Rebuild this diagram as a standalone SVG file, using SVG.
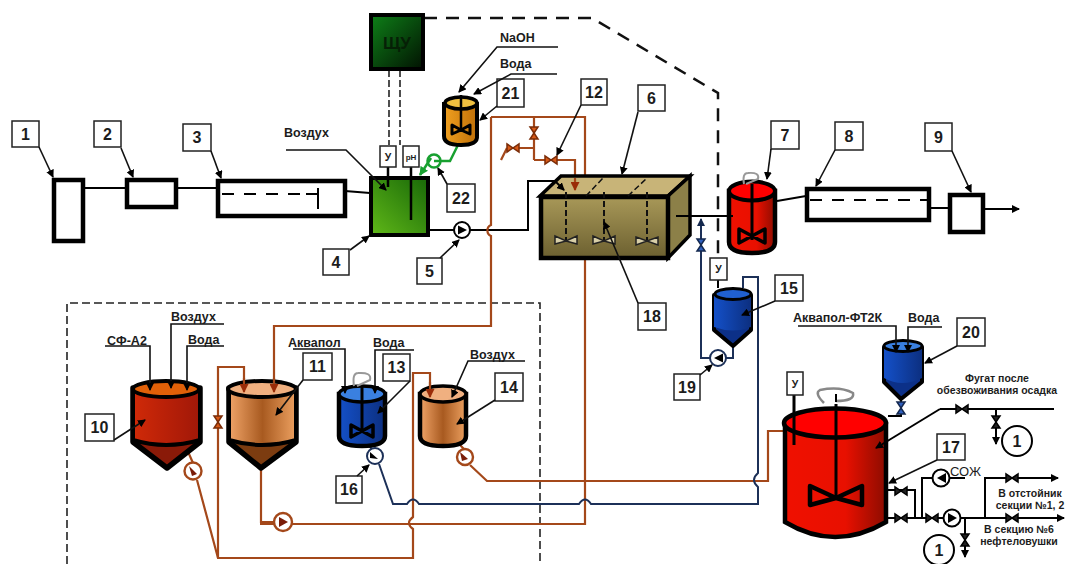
<svg xmlns="http://www.w3.org/2000/svg" width="1065" height="564" viewBox="0 0 1065 564">
<style>
text{font-family:"Liberation Sans",Arial,sans-serif;font-weight:bold;fill:#1c1c1c}
.lb{font-size:16px;text-anchor:middle}
.t{font-size:12.5px}
.s{font-size:10.5px;text-anchor:middle}
.box{fill:#fff;stroke:#222;stroke-width:1.5}
.l{fill:none;stroke:#111;stroke-width:1.6}
.k{fill:none;stroke:#000;stroke-width:2}
.eq{fill:#fff;stroke:#000;stroke-width:4.5}
.o{fill:none;stroke:#a4481a;stroke-width:2.2}
.b{fill:none;stroke:#1c3058;stroke-width:2}
.a{marker-end:url(#ar)}
.ao{marker-end:url(#aro)}
.dash{fill:none;stroke:#111;stroke-width:2.5;stroke-dasharray:13 9}
.dg{fill:none;stroke:#222;stroke-width:1.6;stroke-dasharray:7 3}
.vo{fill:#d85a18;stroke:#7a2c08;stroke-width:1.5}
.vb{fill:#3060c0;stroke:#14284e;stroke-width:1.5}
.vk{fill:#222;stroke:#000;stroke-width:1.5}
.pc{fill:#fff;stroke:#000;stroke-width:2}
.imp{fill:none;stroke:#000;stroke-width:3.5;stroke-linejoin:round}
</style>
<defs>
<marker id="ar" markerWidth="8" markerHeight="8" refX="7" refY="4" orient="auto" markerUnits="userSpaceOnUse"><path d="M0 0L8 4L0 8z" fill="#000"/></marker>
<marker id="aro" markerWidth="9" markerHeight="9" refX="8" refY="4.500" orient="auto" markerUnits="userSpaceOnUse"><path d="M0 0L9 4.500L0 9z" fill="#9a2c08"/></marker>
<marker id="abl" markerWidth="8" markerHeight="8" refX="7" refY="4" orient="auto" markerUnits="userSpaceOnUse"><path d="M0 0L8 4L0 8z" fill="#14284e"/></marker>
<marker id="ag" markerWidth="9" markerHeight="9" refX="8" refY="4.500" orient="auto" markerUnits="userSpaceOnUse"><path d="M0 0L9 4.500L0 9z" fill="#18a030"/></marker>
<symbol id="vh" overflow="visible"><path d="M-6-4V4L6-4V4Z"/></symbol>
<linearGradient id="gRed" x1="0" x2="1" y1="0" y2="0"><stop offset="0" stop-color="#f01000"/><stop offset=".6" stop-color="#e81000"/><stop offset="1" stop-color="#8c0c00"/></linearGradient>
<linearGradient id="gR10" x1="0" x2="1" y1="0" y2="0"><stop offset="0" stop-color="#d02a08"/><stop offset=".5" stop-color="#b82008"/><stop offset="1" stop-color="#a01808"/></linearGradient>
<linearGradient id="gCu" x1="0" x2="1" y1="0" y2="0"><stop offset="0" stop-color="#f0a468"/><stop offset=".5" stop-color="#a85a20"/><stop offset="1" stop-color="#eca060"/></linearGradient>
<linearGradient id="gBlue" x1="0" x2="1" y1="0" y2="0"><stop offset="0" stop-color="#1450c8"/><stop offset="1" stop-color="#0c2f80"/></linearGradient>
<linearGradient id="gOr" x1="0" x2="1" y1="0" y2="0"><stop offset="0" stop-color="#f0a020"/><stop offset="1" stop-color="#c07008"/></linearGradient>
<linearGradient id="gGr" x1="0" x2="1" y1="1" y2="0"><stop offset="0" stop-color="#60b818"/><stop offset="1" stop-color="#186808"/></linearGradient>
<linearGradient id="gDk" x1="0" x2="1" y1="0" y2="1"><stop offset="0" stop-color="#0e8018"/><stop offset="1" stop-color="#021202"/></linearGradient>
<linearGradient id="gOl" x1="0" x2="0" y1="0" y2="1"><stop offset="0" stop-color="#a89858"/><stop offset="1" stop-color="#6c6030"/></linearGradient>
</defs>
<rect width="1065" height="564" fill="#fff"/>

<g id="connectors">
<path class="dg" d="M67 564V303H540V564" style="stroke-dasharray:8 4"/>
<path class="k" d="M84 188H127M176 188H218M345 191L370 193M429 230H454M470 230H528V181H555M777 201L806 196M930 208H949"/>
<path class="dash" d="M424 18H592L718 93V258"/>
<path class="dg" d="M389 70V145M400 70V145"/>
<path class="k" d="M718 280V288"/>
<path class="k a" d="M984 209H1019"/>
<path class="o" d="M491 117H585V176M585 258V524H260"/>
<path class="o" d="M491 117V225A6 6 0 0 0 491 236V326H274V388"/>
<path class="o" d="M534 117V160M507 148H534M534 160H575V180"/>
<path class="o" d="M507 148L501 160"/>
<path class="o" d="M261 468V522H274"/>
<path class="o" d="M185 445L193 463M197 480L218 558H413V529Q405 523 413 517V373H430V390"/>
<path class="o" d="M218 558V367H244V388"/>
<path class="o" d="M460 445L465 450M470 465L487 481H768V431H783"/>
<path class="b" d="M368 445L372 449M379 464L393 504H407Q413 495 419 504H579Q585 495 591 504H758V487Q750 480 758 473V277H743V288"/>
<path class="b" d="M733 347V358H726M710 358H701V219" marker-end="url(#abl)"/>
<path d="M458 145L450 161H434" fill="none" stroke="#18a030" stroke-width="2.500"/>
<path d="M431 158L420 175" fill="none" stroke="#18a030" stroke-width="2.500" marker-end="url(#ag)"/>
<path class="k" d="M901 398V416H888"/>
<path class="k" d="M940 409H1054"/>
<path class="k a" d="M996 409V444"/>
<path class="k" d="M888 490H915V518M888 518H944M961 518H985"/>
<path class="k a" d="M985 518H1064"/>
<path class="k" d="M922 518V478H932M950 478H965"/>
<path class="k a" d="M985 518V478H1058"/>
<path class="k a" d="M965 518V557"/>
</g>

<g id="node-1"><rect class="eq" x="54" y="180" width="29" height="61"/><rect class="box" x="12" y="121" width="27" height="26"/><text class="lb" x="25.500" y="140">1</text></g>
<g id="node-2"><rect class="eq" x="127" y="180" width="49" height="27"/><rect class="box" x="94" y="121" width="27" height="26"/><text class="lb" x="107.500" y="140">2</text></g>
<g id="node-3"><rect class="eq" x="218" y="181" width="127" height="35"/><path d="M222 194H316" fill="none" stroke="#000" stroke-width="2" stroke-dasharray="12 10"/><path d="M318 188V209M306 194H318" stroke="#000" stroke-width="2" fill="none"/><rect class="box" x="183" y="124" width="28" height="27"/><text class="lb" x="197" y="143">3</text></g>
<g id="node-4"><rect x="371" y="178" width="57" height="57" fill="url(#gGr)" stroke="#000" stroke-width="4"/><path d="M388 167V187M411 167V220" stroke="#000" stroke-width="2.500"/><rect class="box" x="323" y="249" width="26" height="26"/><text class="lb" x="336" y="268">4</text></g>
<g id="sensor-4"><rect class="box" x="380" y="146" width="16" height="21" stroke-width="2"/><text class="s" x="388" y="161">У</text><rect class="box" x="403" y="146" width="16" height="21" stroke-width="2"/><text class="s" x="411" y="160" style="font-size:8px">pH</text></g>
<g id="node-shu"><rect x="371" y="15" width="52" height="54" fill="url(#gDk)" stroke="#000" stroke-width="4"/><text x="397" y="49" text-anchor="middle" style="font-size:17px;fill:#062006">ЩУ</text></g>
<g id="node-5"><circle class="pc" cx="462" cy="230" r="8"/><path d="M458 225.500L467 230L458 234.500z" fill="#000"/><rect class="box" x="417" y="258" width="25" height="26"/><text class="lb" x="429.500" y="277">5</text></g>
<g id="node-6">
<path d="M540 196L561 176H690L668 196z" fill="#c8b478" stroke="#000" stroke-width="3.500"/>
<path d="M668 196L690 176V235L668 258z" fill="#8c8048" stroke="#000" stroke-width="3.500"/>
<rect x="541" y="197" width="127" height="61" fill="url(#gOl)" stroke="#000" stroke-width="4.500"/>
<path d="M586 196L603 178M628 196L647 178" stroke="#111" stroke-width="1.500" stroke-dasharray="6 3"/>
<g stroke="#111" stroke-width="2" stroke-dasharray="6 3"><path d="M566 192V240M604 192V240M647 192V240"/></g>
<g fill="#d8cfa8" stroke="#222" stroke-width="1.500"><path d="M555 236L566 241L577 236V244L566 241L555 244z"/><path d="M593 236L604 241L615 236V244L604 241L593 244z"/><path d="M636 237L647 241L658 237V245L647 241L636 245z"/></g>
<rect class="box" x="638" y="85" width="27" height="26"/><text class="lb" x="651.500" y="104">6</text>
<rect class="box" x="638" y="303" width="28" height="27"/><text class="lb" x="652" y="322">18</text>
</g>
<g id="node-7">
<path d="M729 191V242Q729 253 752 253T775 242V191z" fill="url(#gRed)" stroke="#000" stroke-width="4.500"/>
<ellipse cx="752" cy="191" rx="23" ry="9.500" fill="#f00" stroke="#000" stroke-width="4"/>
<path d="M752 184V240" stroke="#000" stroke-width="3"/><path class="imp" d="M739 229L752 236L765 229V243L752 236L739 243z"/>
<path d="M744 184Q742 173 748 173Q760 172 758 179L746 184" fill="none" stroke="#999" stroke-width="2"/>
<rect class="box" x="771" y="121" width="28" height="28"/><text class="lb" x="785" y="141">7</text>
</g>
<g id="node-8"><rect class="eq" x="807" y="189" width="122" height="31"/><path d="M810 200H928" stroke="#000" stroke-width="2" stroke-dasharray="12 10"/><rect class="box" x="835" y="122" width="28" height="28"/><text class="lb" x="849" y="142">8</text></g>
<g id="node-9"><rect class="eq" x="950" y="195" width="33" height="37"/><rect class="box" x="925" y="123" width="27" height="28"/><text class="lb" x="938.500" y="143">9</text></g>

<g id="node-10">
<path d="M133 388V442L167 468L200 442V388z" fill="#8a1a08" stroke="#000" stroke-width="5.500" stroke-linejoin="round"/>
<path d="M133 388V440Q166 450 200 440V388z" fill="url(#gR10)" stroke="#000" stroke-width="4"/>
<ellipse cx="166" cy="389" rx="33" ry="8" fill="#e06008" stroke="#000" stroke-width="4"/>
<rect class="box" x="85" y="414" width="29" height="27"/><text class="lb" x="99.500" y="433">10</text>
</g>
<g id="node-11">
<path d="M229 388V442L261 468L296 442V388z" fill="#7c3c10" stroke="#000" stroke-width="5.500" stroke-linejoin="round"/>
<path d="M229 388V440Q262 450 296 440V388z" fill="url(#gCu)" stroke="#000" stroke-width="4"/>
<ellipse cx="262" cy="389" rx="34" ry="8" fill="#f0b080" stroke="#000" stroke-width="4"/>
<rect class="box" x="303" y="353" width="29" height="27"/><text class="lb" x="317.500" y="372">11</text>
</g>
<g id="node-13">
<path d="M339 394V436Q339 446 362 446T385 436V394z" fill="url(#gBlue)" stroke="#000" stroke-width="4.500"/>
<ellipse cx="362" cy="394" rx="23" ry="8" fill="#3a80e0" stroke="#000" stroke-width="3.500"/>
<path d="M362 387V432" stroke="#000" stroke-width="3"/><path class="imp" d="M351 425L362 431L373 425V437L362 431L351 437z"/>
<path d="M354 386Q352 373 358 373Q372 372 370 380L357 386" fill="none" stroke="#999" stroke-width="2"/>
<rect class="box" x="383" y="354" width="27" height="27"/><text class="lb" x="396.500" y="373">13</text>
</g>
<g id="node-14">
<path d="M420 394V436Q420 446 443 446T466 436V394z" fill="url(#gCu)" stroke="#000" stroke-width="4.500"/>
<ellipse cx="443" cy="394" rx="23" ry="8" fill="#f0b080" stroke="#000" stroke-width="3.500"/>
<rect class="box" x="495" y="373" width="28" height="28"/><text class="lb" x="509" y="393">14</text>
</g>
<g id="node-15">
<path d="M714 295V330L733 346L751 330V295z" fill="#0c3088" stroke="#000" stroke-width="4" stroke-linejoin="round"/>
<path d="M714 295V327Q733 334 751 327V295z" fill="url(#gBlue)"/>
<ellipse cx="733" cy="294" rx="18" ry="5.500" fill="#2060d0" stroke="#000" stroke-width="3"/>
<rect class="box" x="775" y="275" width="28" height="26"/><text class="lb" x="789" y="294">15</text>
<rect class="box" x="710" y="258" width="17" height="22" stroke-width="2"/><text class="s" x="718.500" y="273">У</text>
</g>
<g id="node-16"><circle cx="375" cy="456" r="8" fill="#fff" stroke="#1c3058" stroke-width="2"/><path d="M370 452L378 459L370 458z" fill="#000"/><rect class="box" x="336" y="476" width="26" height="27"/><text class="lb" x="349" y="495">16</text></g>
<g id="node-19"><circle cx="718" cy="358" r="8" fill="#fff" stroke="#1c3058" stroke-width="2"/><path d="M723 353.500L714 358L723 362.500z" fill="#000"/><rect class="box" x="674" y="374" width="26" height="26"/><text class="lb" x="687" y="393">19</text></g>
<g id="node-20">
<path d="M884 347V382L901 399L922 382V347z" fill="#0c3088" stroke="#000" stroke-width="4" stroke-linejoin="round"/>
<path d="M884 347V378Q902 388 922 378V347z" fill="url(#gBlue)"/>
<ellipse cx="903" cy="346" rx="19" ry="5.500" fill="#3a80e0" stroke="#000" stroke-width="3"/>
<rect class="box" x="957" y="318" width="28" height="28"/><text class="lb" x="971" y="338">20</text>
</g>
<g id="node-21">
<path d="M444 104V136Q444 145 461 145T477 136V104z" fill="url(#gOr)" stroke="#000" stroke-width="4"/>
<ellipse cx="461" cy="103" rx="16" ry="6" fill="#f0c040" stroke="#000" stroke-width="3.500"/>
<path d="M461 95V132" stroke="#000" stroke-width="2.500"/><path class="imp" d="M452 125L461 130L470 125V134L461 130L452 134z" style="stroke-width:3"/>
<rect class="box" x="497" y="79" width="27" height="28"/><text class="lb" x="510.500" y="99">21</text>
</g>
<g id="node-22"><circle cx="434" cy="161" r="6.500" fill="none" stroke="#18a030" stroke-width="2.500"/><rect class="box" x="447" y="184" width="28" height="28"/><text class="lb" x="461" y="204">22</text></g>
<g id="node-12"><rect class="box" x="581" y="79" width="26" height="26"/><text class="lb" x="594" y="98">12</text></g>
<g id="node-17">
<path d="M785 424V522Q835 552 886 522V424z" fill="url(#gRed)" stroke="#000" stroke-width="4.500"/>
<ellipse cx="835" cy="423" rx="51" ry="14.500" fill="#f00" stroke="#000" stroke-width="4.500"/>
<path d="M836 404V498M794 395V445" stroke="#000" stroke-width="3"/>
<path d="M810 486L836 498L862 486V505L836 498L810 505z" fill="none" stroke="#000" stroke-width="4.500" stroke-linejoin="round"/>
<path d="M824 403Q814 393 820 390Q840 386 853 393Q855 401 836 401" fill="none" stroke="#888" stroke-width="2.500"/><path d="M836 394V402" stroke="#000" stroke-width="2"/>
<rect class="box" x="787" y="372" width="16" height="23" stroke-width="2"/><text class="s" x="795" y="388">У</text>
<rect class="box" x="937" y="434" width="28" height="26"/><text class="lb" x="951" y="453">17</text>
</g>

<g id="leaders">
<path class="k" d="M676 216H733"/>
<path class="k a" d="M555 181L564 190"/>
<path class="k a" d="M940 409L876 448"/>
<path class="o ao" d="M244 378V392"/>
<path class="o ao" d="M274 378V392"/>
<path class="o ao" d="M430 382V397"/>
<path class="o ao" d="M575 178V190"/>
<g class="l">
<path class="a" d="M39 147L53 177"/>
<path class="a" d="M121 148L133 177"/>
<path class="a" d="M211 151L221 178"/>
<path class="a" d="M286 150H346L386 190"/>
<path class="a" d="M350 250L369 236"/>
<path class="a" d="M440 258L459 240"/>
<path class="a" d="M558 47H497L459 92"/>
<path class="a" d="M557 74H511L474 94"/>
<path class="a" d="M497 106L480 120"/>
<path class="a" d="M447 184L438 168"/>
<path class="a" d="M581 105L557 155"/>
<path class="a" d="M638 112L622 174"/>
<path class="a" d="M638 303L604 222"/>
<path class="a" d="M771 149L767 179"/>
<path class="a" d="M835 150L816 186"/>
<path class="a" d="M952 151L971 192"/>
<path class="a" d="M775 301L742 315"/>
<path class="a" d="M700 375L712 365"/>
<path class="a" d="M114 440L145 420"/>
<path class="a" d="M303 380L276 415"/>
<path class="a" d="M410 381L378 413"/>
<path class="a" d="M495 400L457 424"/>
<path class="a" d="M357 476L369 465"/>
<path class="a" d="M957 346L925 363"/>
<path class="a" d="M937 460L889 483"/>
<path class="a" d="M105 346H150V390"/>
<path class="a" d="M224 324H171V388"/>
<path class="a" d="M224 346H187V390"/>
<path class="a" d="M293 349H345V393"/>
<path class="a" d="M414 350H375V393"/>
<path class="a" d="M525 361H468L452 397"/>
<path class="a" d="M798 326H896V352"/>
<path class="a" d="M942 327H908V352"/>
</g>
</g>

<g id="valves">
<g class="vo"><use href="#vh" x="513" y="148"/><use href="#vh" x="551" y="160"/><use href="#vh" transform="translate(534 133) rotate(90)"/></g>
<g class="vo"><use href="#vh" transform="translate(218 422) rotate(90)"/></g>
<g class="vb"><use href="#vh" transform="translate(701 245) rotate(90)"/><use href="#vh" transform="translate(901 408) rotate(90)"/></g>
<g class="vk"><use href="#vh" x="962" y="409"/><use href="#vh" transform="translate(996 422) rotate(90)"/><use href="#vh" x="901" y="491"/><use href="#vh" x="901" y="518"/><use href="#vh" x="932" y="518"/><use href="#vh" x="1012" y="478"/><use href="#vh" x="1012" y="518"/><use href="#vh" transform="translate(965 540) rotate(90)"/></g>
</g>
<g id="pumps">
<circle cx="193" cy="471" r="8.500" fill="#fff" stroke="#a4481a" stroke-width="2.400"/><path d="M189 466L197 474L192 476z" fill="#7a1c08"/>
<circle cx="283" cy="522" r="9" fill="#fff" stroke="#a4481a" stroke-width="2.400"/><path d="M279 517L288 522L279 527z" fill="#7a1c08"/>
<circle cx="465" cy="457" r="8" fill="#fff" stroke="#a4481a" stroke-width="2.400"/><path d="M460 452L468 459L462 461z" fill="#7a1c08"/>
<circle cx="952" cy="518" r="8.500" class="pc"/><path d="M948 513L957 518L948 523z" fill="#000"/>
<circle cx="941" cy="478" r="8.500" class="pc"/><path d="M946 473L937 478L946 483z" fill="#000"/>
<circle cx="1017" cy="441" r="15" class="pc"/><text class="lb" x="1017" y="447">1</text>
<circle cx="939" cy="550" r="15" class="pc"/><text class="lb" x="939" y="556">1</text>
</g>
<g id="labels">
<text class="t" x="500" y="42">NaOH</text><text class="t" x="500" y="68">Вода</text><text class="t" x="284" y="137">Воздух</text>
<text class="t" x="107" y="345">СФ-А2</text><text class="t" x="171" y="321">Воздух</text><text class="t" x="188" y="344">Вода</text>
<text class="t" x="288" y="347">Аквапол</text><text class="t" x="373" y="347">Вода</text><text class="t" x="470" y="359">Воздух</text>
<text class="t" x="793" y="322">Аквапол-ФТ2К</text><text class="t" x="908" y="322">Вода</text>
<text class="t" x="950" y="476" style="font-weight:normal;font-size:13px">СОЖ</text>
<text class="s" x="997" y="382">Фугат после</text><text class="s" x="997" y="394">обезвоживания осадка</text>
<text class="s" x="1030" y="497">В отстойник</text><text class="s" x="1030" y="509">секции №1, 2</text>
<text class="s" x="1019" y="533">В секцию №6</text><text class="s" x="1019" y="545">нефтеловушки</text>
</g>
</svg>
